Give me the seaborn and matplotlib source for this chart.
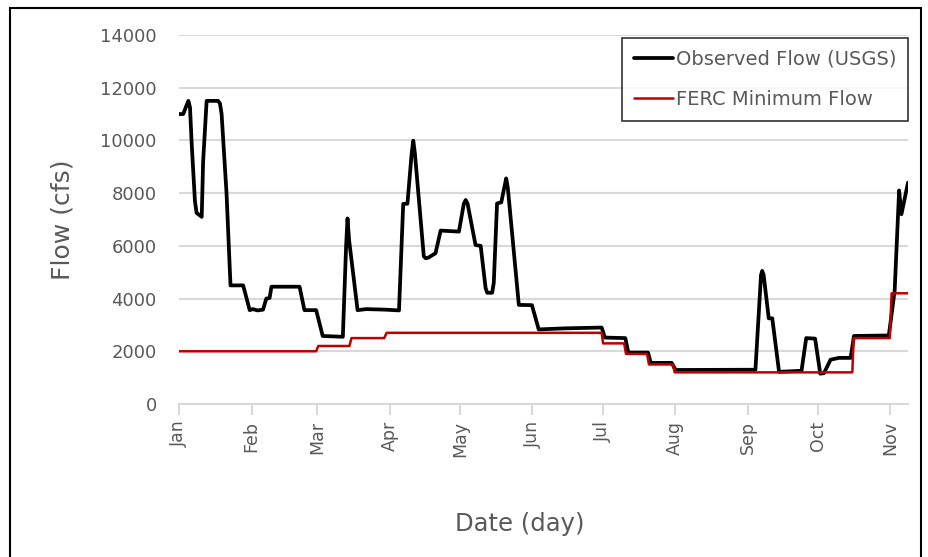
import pandas as pd
import numpy as np
import seaborn as sns
import matplotlib.pyplot as plt
import matplotlib.dates as mdates
from matplotlib.patches import Rectangle

# days since Jan 1
obs_day = [0, 1.8, 3.3, 4, 4.7, 5.4, 6.8, 7.5, 9.7, 10.3, 11.8, 16.7, 17.5, 18.2, 20.3,
           22, 27.4, 30.2, 31.5, 33.6, 35.9, 37.3, 38.7, 39.5, 51.5, 53.6, 58.6, 61.4,
           70, 71.4, 72, 72.7, 76.3, 80, 88, 94, 95.8, 97.6, 99.4, 100.1, 100.8, 104.6,
           105.4, 106.5, 109.6, 111.8, 119.6, 121.7, 122.5, 123.3, 126.7, 128.9, 131,
           131.7, 133.8, 134.5, 135.9, 137.7, 139.2, 139.8, 140.5, 145.2, 150.8, 153.7,
           165, 180.6, 182, 190.7, 192, 200.4, 201.6, 210.5, 212.2, 246.3, 248.7, 249.2,
           249.8, 252, 253.5, 256.4, 266, 268, 271.8, 274, 275.6, 278.4, 282, 287, 288.4,
           303.3, 305.8, 307.7, 308.7, 311.5]
obs_flow = [11000, 11000, 11350, 11500, 11250, 9900, 7700, 7250, 7100, 9200, 11500,
            11500, 11400, 11000, 8000, 4500, 4500, 3560, 3600, 3550, 3580, 4000, 4020,
            4450, 4450, 3560, 3560, 2580, 2550, 6000, 7040, 6200, 3560, 3600, 3580, 3550,
            7590, 7600, 9500, 9990, 9500, 5600, 5530, 5550, 5720, 6580, 6540, 7600, 7740,
            7600, 6030, 6000, 4400, 4220, 4220, 4600, 7610, 7650, 8300, 8560, 8200, 3760,
            3750, 2830, 2870, 2900, 2520, 2500, 1950, 1950, 1560, 1560, 1290, 1300, 4900,
            5050, 4900, 3250, 3250, 1220, 1260, 2500, 2480, 1150, 1170, 1680, 1750, 1750,
            2580, 2600, 4300, 8100, 7200, 8400]

ferc_day = [0, 58.6, 59.5, 72.8, 73.7, 87.7, 88.7, 180.6, 181.2, 190.2, 191, 200,
            200.8, 211, 211.8, 287.7, 288.3, 303.7, 304.5, 311.5]
ferc_flow = [2000, 2000, 2200, 2200, 2500, 2500, 2700, 2700, 2300, 2300, 1900, 1900,
             1500, 1500, 1200, 1200, 2500, 2500, 4200, 4200]

start = pd.Timestamp("2019-01-01")
obs = pd.DataFrame({"date": start + pd.to_timedelta(obs_day, unit="D"), "flow": obs_flow})
ferc = pd.DataFrame({"date": start + pd.to_timedelta(ferc_day, unit="D"), "flow": ferc_flow})

sns.set_style("white")
plt.rcParams["font.family"] = ["DejaVu Sans"]

fig = plt.figure(figsize=(9.29, 5.57), dpi=100)
ax = fig.add_axes([0.1927, 0.2747, 0.7847, 0.6625])

grid_c = "#D9D9D9"
text_c = "#595959"

sns.lineplot(x="date", y="flow", data=obs, estimator=None, sort=False, color="black",
             linewidth=2.7, label="Observed Flow (USGS)", ax=ax, zorder=3)
sns.lineplot(x="date", y="flow", data=ferc, estimator=None, sort=False, color="#C00000",
             linewidth=1.8, label="FERC Minimum Flow", ax=ax, zorder=4)
for ln in ax.get_lines():
    ln.set_solid_joinstyle("round")

ax.set_ylim(0, 14000)
ax.set_xlim(start, start + pd.Timedelta(days=311.5))
ax.set_yticks(np.arange(0, 14001, 2000))
ax.yaxis.grid(True, color=grid_c, linewidth=1.5)
ax.set_axisbelow(True)

ax.xaxis.set_major_locator(mdates.MonthLocator())
ax.xaxis.set_major_formatter(mdates.DateFormatter("%b"))
ax.tick_params(axis="x", rotation=90, colors=grid_c, labelcolor=text_c, labelsize=12.5,
               length=8, width=1.5, direction="out", bottom=True, pad=4)
ax.tick_params(axis="y", length=0, labelcolor=text_c, labelsize=13, pad=16)

for s in ["top", "right", "left"]:
    ax.spines[s].set_visible(False)
ax.spines["bottom"].set_color(grid_c)
ax.spines["bottom"].set_linewidth(1.5)

ax.set_ylabel("Flow (cfs)", fontsize=18, color=text_c)
ax.yaxis.set_label_coords(-0.144, 0.5)
ax.set_xlabel("Date (day)", fontsize=17.5, color=text_c)
ax.xaxis.set_label_coords(0.468, -0.293)

leg = ax.legend(loc="upper right", bbox_to_anchor=(1.0, 0.992), borderaxespad=0,
                fontsize=14, frameon=True, fancybox=False, handlelength=2.0,
                handletextpad=0.15, borderpad=0.6, labelspacing=1.1, labelcolor=text_c)
leg.get_frame().set_edgecolor("black")
leg.get_frame().set_linewidth(1.2)

fig.patches.append(Rectangle((0.011, -0.05), 0.9805, 1.0356, transform=fig.transFigure,
                             fill=False, edgecolor="black", linewidth=1.5))

fig.savefig("out.png", dpi=100)
